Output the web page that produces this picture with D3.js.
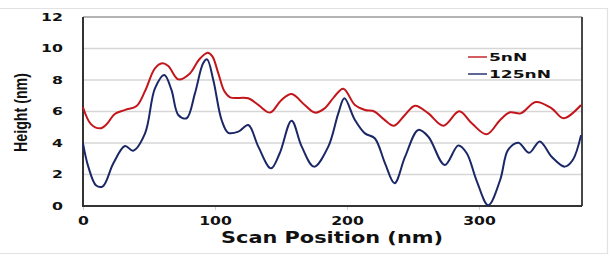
<!DOCTYPE html>
<html>
<head>
<meta charset="utf-8">
<script src="https://cdn.jsdelivr.net/npm/d3@7"></script>
<style>
  body { margin: 0; background: #fff; }
  svg { display: block; }
</style>
</head>
<body>
<div id="chart"></div>
<script>
// Height profiles (scan position in nm, height in nm)
const redX  = [0, 6, 12.9, 18, 24, 32, 40.6, 47, 54.5, 60, 64.6, 72.2, 81, 88, 94.4, 98, 102.5, 107, 111.4, 125.2, 133, 141.7, 150, 158, 168, 175.8, 183, 190, 197.2, 206, 213.6, 220.7, 228, 235.5, 244, 251.5, 261.6, 273, 285, 294.5, 305.8, 316, 323.5, 331.5, 343, 355, 363.9, 377.3];
const redY  = [6.27, 5.2, 4.93, 5.2, 5.84, 6.1, 6.35, 7.3, 8.74, 9.06, 8.89, 8.04, 8.42, 9.3, 9.73, 9.5, 8.42, 7.3, 6.9, 6.84, 6.4, 5.93, 6.7, 7.11, 6.41, 5.93, 6.2, 6.9, 7.45, 6.41, 6.1, 6.0, 5.5, 5.1, 5.8, 6.37, 5.88, 5.1, 6.01, 5.25, 4.55, 5.46, 5.95, 5.88, 6.6, 6.2, 5.57, 6.41];

const blueX = [0, 4, 10, 15, 23, 31.8, 38, 47, 54.5, 61.6, 67, 72.2, 78.5, 84.8, 91, 94, 98.7, 105, 110, 117.7, 125.2, 132.8, 142.4, 149, 158, 165.7, 175, 185.8, 193.4, 198, 206, 213.6, 221, 228.8, 236, 244, 254, 261.6, 274, 284.3, 290.7, 298, 307, 316, 322, 329.8, 338, 346, 355, 365, 371, 377.3];
const blueY = [3.98, 2.5, 1.3, 1.25, 2.71, 3.81, 3.51, 4.61, 7.47, 8.32, 7.37, 5.78, 5.57, 7.15, 9.06, 9.31, 8.0, 5.46, 4.65, 4.72, 5.14, 3.77, 2.39, 3.35, 5.42, 3.77, 2.5, 3.77, 5.88, 6.84, 5.46, 4.61, 4.3, 2.71, 1.45, 3.13, 4.83, 4.4, 2.6, 3.84, 3.35, 1.65, 0.05, 1.65, 3.56, 4.02, 3.38, 4.1, 3.13, 2.5, 2.92, 4.5];

const seriesNames = ['5nN', '125nN'];
const yTicks = [0, 2, 4, 6, 8, 10, 12];
const xTicks = [0, 100, 200, 300];

const COLORS = { '5nN': '#c3161c', '125nN': '#1b2766' };

const width = 616, height = 260;
const margin = { left: 83, right: 34, top: 17, bottom: 54 };

const svg = d3.select('#chart').append('svg')
  .attr('width', width)
  .attr('height', height);

// faint outer frame of the figure
const frame = svg.append('g').attr('stroke', '#e2e2e2').attr('stroke-width', 1.2).attr('fill', 'none');
frame.append('path').attr('d', 'M0,8.5H607.5V253.5H0');

const x = d3.scaleLinear().domain([0, 378]).range([margin.left, width - margin.right]);
const y = d3.scaleLinear().domain([0, 12]).range([height - margin.bottom, margin.top]);

// stretch text horizontally (the source figure is wider than it is tall)
function stretch(sel, sx) {
  sel.each(function () {
    const len = this.getComputedTextLength();
    d3.select(this).attr('textLength', len * sx).attr('lengthAdjust', 'spacingAndGlyphs');
  });
}

// gridlines
svg.append('g')
  .selectAll('line')
  .data(yTicks.filter(d => d > 0 && d < 12))
  .enter().append('line')
  .attr('x1', x(0)).attr('x2', x(378))
  .attr('y1', d => y(d)).attr('y2', d => y(d))
  .attr('stroke', '#d6d6d6').attr('stroke-width', 1.5);

// y axis labels
const yAxis = d3.axisLeft(y).tickValues(yTicks).tickSize(0).tickPadding(20);
const gy = svg.append('g').attr('transform', 'translate(' + x(0) + ',0)').call(yAxis);
gy.select('.domain').remove();
gy.selectAll('text')
  .attr('font-family', 'DejaVu Sans, Verdana, sans-serif')
  .attr('font-weight', 'bold')
  .attr('font-size', 10.5)
  .attr('fill', '#111')
  .call(stretch, 1.5);

// x axis labels + small ticks
const xAxis = d3.axisBottom(x).tickValues(xTicks).tickSize(4).tickPadding(6);
const gx = svg.append('g').attr('transform', 'translate(0,' + y(0) + ')').call(xAxis);
gx.select('.domain').remove();
gx.selectAll('line').attr('stroke', '#cfcfcf').attr('stroke-width', 1);
gx.selectAll('text')
  .attr('font-family', 'DejaVu Sans, Verdana, sans-serif')
  .attr('font-weight', 'bold')
  .attr('font-size', 12.5)
  .attr('fill', '#111')
  .call(stretch, 1.25);

// plot border
svg.append('line')
  .attr('x1', x(0)).attr('x2', x(378)).attr('y1', y(12)).attr('y2', y(12))
  .attr('stroke', '#6a6a6a').attr('stroke-width', 1.2);
svg.append('line')
  .attr('x1', x(378)).attr('x2', x(378)).attr('y1', y(12)).attr('y2', y(0))
  .attr('stroke', '#333').attr('stroke-width', 1.8);
svg.append('path')
  .attr('d', 'M' + x(0) + ',' + y(12) + 'V' + y(0) + 'H' + x(378))
  .attr('fill', 'none').attr('stroke', '#333').attr('stroke-width', 2);

// curves
const line = d3.line()
  .x(d => x(d[0]))
  .y(d => y(d[1]))
  .curve(d3.curveCatmullRom.alpha(0.5));

const series = [
  { name: '5nN', pts: redX.map((v, i) => [v, redY[i]]) },
  { name: '125nN', pts: blueX.map((v, i) => [v, blueY[i]]) }
];

svg.append('g')
  .selectAll('path')
  .data(series)
  .enter().append('path')
  .attr('d', d => line(d.pts))
  .attr('fill', 'none')
  .attr('stroke', d => COLORS[d.name])
  .attr('stroke-width', 2)
  .attr('stroke-linejoin', 'round');

// legend
const legend = svg.append('g').attr('transform', 'translate(468,57)');
const items = legend.selectAll('g')
  .data(seriesNames)
  .enter().append('g')
  .attr('transform', (d, i) => 'translate(0,' + i * 17 + ')');
items.append('line')
  .attr('x1', 0).attr('x2', 19)
  .attr('stroke', d => COLORS[d]).attr('stroke-width', 1.4);
items.append('text')
  .attr('x', 21).attr('dy', '0.36em')
  .attr('font-family', 'DejaVu Sans, Verdana, sans-serif')
  .attr('font-weight', 'bold')
  .attr('font-size', 11)
  .attr('fill', '#111')
  .text(d => d)
  .call(stretch, 1.55);

// axis titles
svg.append('text')
  .attr('x', 221).attr('y', 243)
  .attr('font-family', 'DejaVu Sans, Verdana, sans-serif')
  .attr('font-weight', 'bold')
  .attr('font-size', 15)
  .attr('fill', '#111')
  .attr('textLength', 222)
  .attr('lengthAdjust', 'spacingAndGlyphs')
  .text('Scan Position (nm)');

svg.append('text')
  .attr('transform', 'translate(27,152) rotate(-90)')
  .attr('font-family', 'Liberation Sans, Arial, sans-serif')
  .attr('font-weight', 'bold')
  .attr('font-size', 19)
  .attr('fill', '#111')
  .attr('textLength', 79)
  .attr('lengthAdjust', 'spacingAndGlyphs')
  .text('Height (nm)');
</script>
</body>
</html>
